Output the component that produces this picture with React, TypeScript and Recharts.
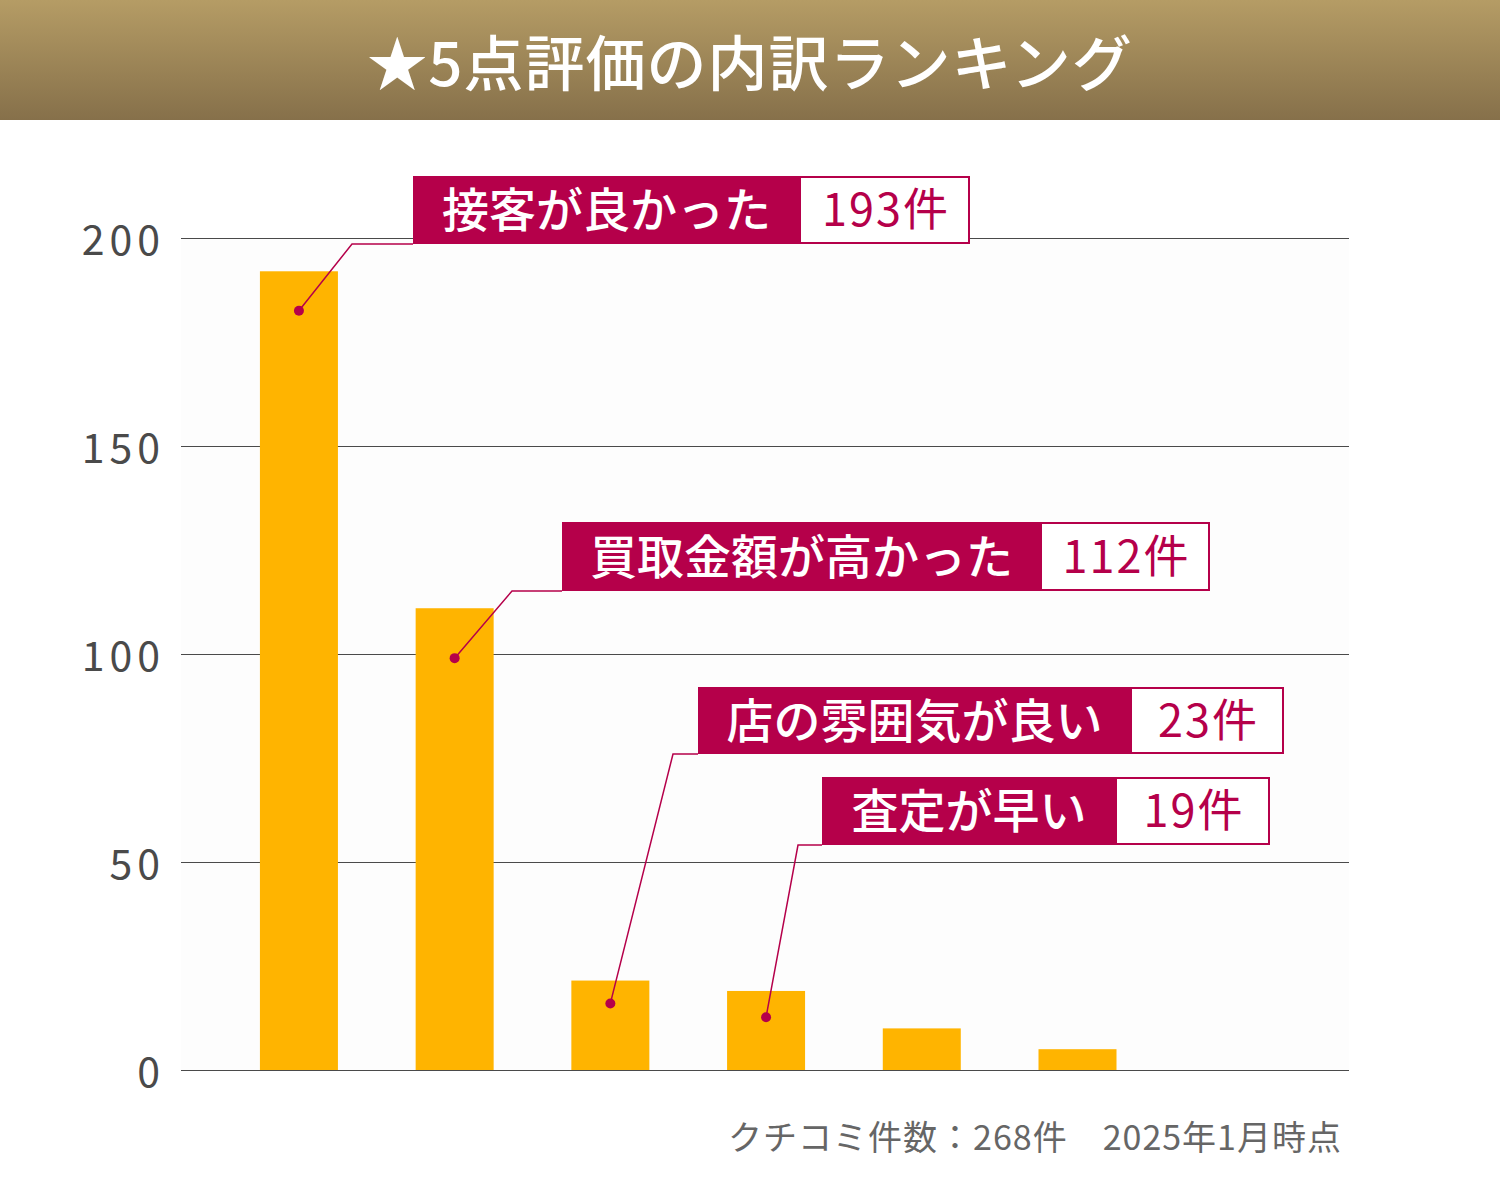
import { BarChart, Bar, XAxis, YAxis, CartesianGrid } from 'recharts';

// 評価の内訳（棒の高さは画像から読み取り）
const categories = ['接客が良かった', '買取金額が高かった', '店の雰囲気が良い', '査定が早い', 'その他A', 'その他B', 'その他C'];
const counts = [192, 111, 21.5, 19, 10, 5, 0];
const yTicks = [0, 50, 100, 150, 200];

// 吹き出しのラベル
const calloutTexts = ['接客が良かった', '買取金額が高かった', '店の雰囲気が良い', '査定が早い'];
const calloutCounts = ['193件', '112件', '23件', '19件'];
// 点の位置（件数の目盛り上の値）
const calloutAnchors = [182.5, 99, 16, 12.7];

const MAGENTA = '#b5004a';
const FONT = '"Noto Sans CJK JP", "Noto Sans", sans-serif';

// 吹き出しボックスの配置（px）
const boxLayout = [
    { x: 413, y: 176, h: 68, tagW: 387, numW: 170, cornerX: 352 },
    { x: 562, y: 522, h: 69, tagW: 479, numW: 169, cornerX: 512 },
    { x: 698, y: 687, h: 67, tagW: 433, numW: 153, cornerX: 673 },
    { x: 822, y: 777, h: 68, tagW: 294, numW: 154, cornerX: 798 },
];

const data = categories.map((name, i) => ({ name, count: counts[i] }));

const BarWithCallout = (props: any) => {
    const { x, y, width, height, index, value } = props;
    const box = boxLayout[index];
    const cx = x + width / 2;
    let callout = null;
    if (box && value > 0) {
        const dotY = y + height - (calloutAnchors[index] / value) * height;
        const bottom = box.y + box.h;
        callout = (
            <g>
                <polyline
                    points={`${cx},${dotY} ${box.cornerX},${bottom} ${box.x},${bottom}`}
                    fill="none" stroke={MAGENTA} strokeWidth={1.5}
                />
                <circle cx={cx} cy={dotY} r={5} fill={MAGENTA} />
                <rect x={box.x} y={box.y} width={box.tagW} height={box.h} fill={MAGENTA} />
                <rect x={box.x + box.tagW} y={box.y + 1} width={box.numW - 1} height={box.h - 2} fill="#fff" stroke={MAGENTA} strokeWidth={2} />
                <text x={box.x + box.tagW / 2} y={box.y + box.h / 2 + 17} textAnchor="middle" fill="#fff"
                    style={{ fontFamily: FONT, fontSize: 47, fontWeight: 500 }}>
                    {calloutTexts[index]}
                </text>
                <text x={box.x + box.tagW + box.numW / 2 + 1} y={box.y + box.h / 2 + 16} textAnchor="middle" fill={MAGENTA}
                    style={{ fontFamily: FONT, fontSize: 45, fontWeight: 400, letterSpacing: 2 }}>
                    {calloutCounts[index]}
                </text>
            </g>
        );
    }
    return (
        <g>
            {height > 0 && <rect x={x} y={y} width={width} height={height} fill="#ffb400" />}
            {callout}
        </g>
    );
};

// 目盛り線（1px でくっきり描く）
const GridLine = (props: any) => {
    const { x1, x2, y1 } = props;
    const yy = Math.round(y1) + 0.5;
    return <line x1={x1} x2={x2} y1={yy} y2={yy} stroke="#4a4a4a" strokeWidth={1} />;
};

export default function App() {
    return (
        <div style={{ position: 'absolute', left: 0, top: 0, width: 1500, height: 1200, background: '#fff', fontFamily: FONT }}>
            <div style={{
                position: 'absolute', left: 0, top: 0, width: 1500, height: 120,
                background: 'linear-gradient(to bottom, #b59c65, #86704a)',
                color: '#fff', fontSize: 60, fontWeight: 500, textAlign: 'center', lineHeight: '120px', letterSpacing: 1,
            }}>
                ★5点評価の内訳ランキング
            </div>
            <div style={{ position: 'absolute', left: 0, top: 0 }}>
                <BarChart width={1500} height={1200} data={data} barCategoryGap="25%"
                    margin={{ top: 238, right: 151, bottom: 130, left: 0 }}>
                    <CartesianGrid vertical={false} stroke="#4a4a4a" fill="#fdfdfd" horizontal={GridLine} />
                    <XAxis dataKey="name" hide padding={{ left: 40, right: 38 }} />
                    <YAxis width={181} domain={[0, 200]} ticks={yTicks} axisLine={false} tickLine={false}
                        tickSize={0} tickMargin={16}
                        tick={{ fontSize: 41, fill: '#4a4a4a', fontFamily: FONT, letterSpacing: 5, dy: 2 }} />
                    <Bar dataKey="count" isAnimationActive={false} shape={BarWithCallout} />
                </BarChart>
            </div>
            <div style={{
                position: 'absolute', right: 158, top: 1111, fontSize: 34, color: '#666', whiteSpace: 'nowrap', letterSpacing: 1,
            }}>
                クチコミ件数：268件　2025年1月時点
            </div>
        </div>
    );
}
